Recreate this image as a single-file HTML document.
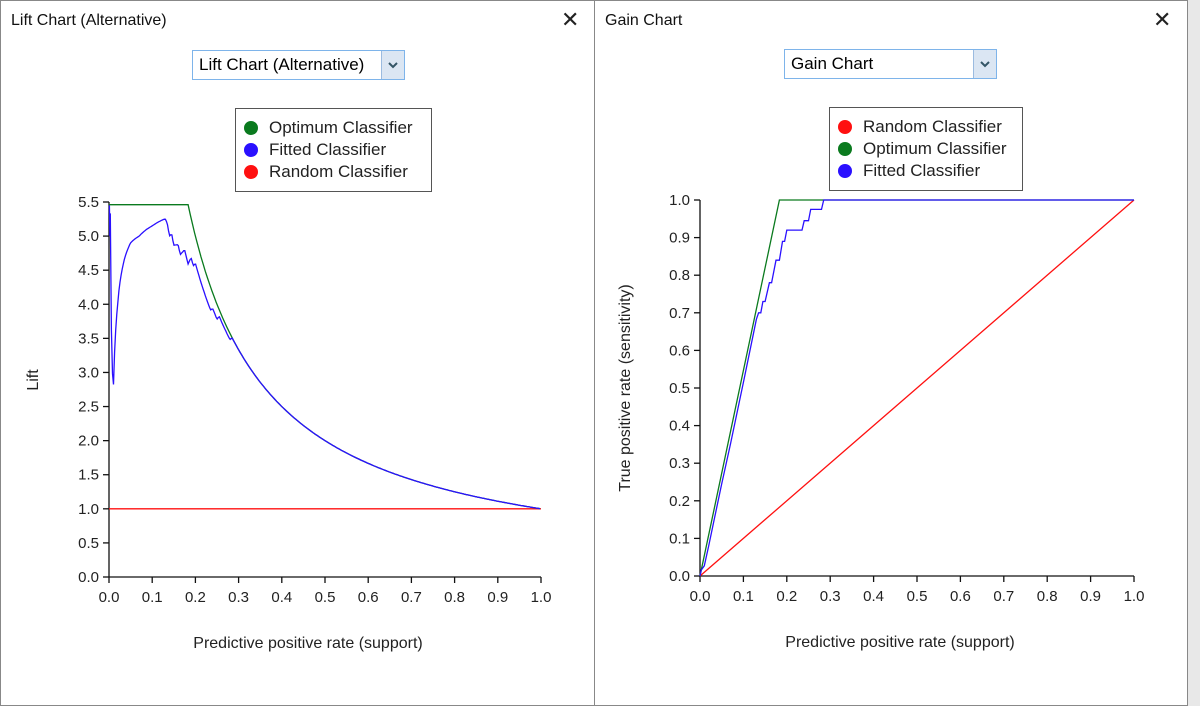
<!DOCTYPE html>
<html><head><meta charset="utf-8"><style>
body{margin:0;width:1200px;height:706px;background:#e8e8e8;position:relative;overflow:hidden;font-family:"Liberation Sans","DejaVu Sans",sans-serif;}
.win{position:absolute;top:0;background:#fff;border:1px solid #888;box-sizing:border-box;}
.title{position:absolute;left:10px;top:11px;font-size:16px;color:#111;}
.x{position:absolute;top:6px;font-size:22px;color:#222;}
.dd{position:absolute;height:30px;border:1px solid #7eb4ea;box-sizing:border-box;font-size:17px;background:#fff;}
.dd span{position:absolute;left:6px;top:4px;}
.dd i{position:absolute;right:0;top:0;width:22px;height:28px;background:#dbe6f3;border-left:1px solid #9bbbe0;}
.leg{position:absolute;border:1.5px solid #555;box-sizing:border-box;font-size:17px;color:#222;background:#fff;}
.leg div{position:relative;height:22px;padding-left:33px;line-height:22px;}
.leg b{position:absolute;left:8px;top:4px;width:14px;height:14px;border-radius:50%;}
svg{position:absolute;left:0;top:0;}
svg text{font-family:"Liberation Sans","DejaVu Sans",sans-serif;font-size:15px;fill:#222;}
</style></head><body>
<div class="win" style="left:0;width:595px;height:706px;">
<div class="title">Lift Chart (Alternative)</div><div class="x" style="left:560px">✕</div>
<div class="dd" style="left:191px;top:49px;width:213px"><span>Lift Chart (Alternative)</span><i><svg width="22" height="28"><path d="M7 12 L11 16 L15 12" stroke="#356" stroke-width="2" fill="none"/></svg></i></div>
<div class="leg" style="left:234px;top:107px;width:197px;height:84px;padding-top:8px"><div><b style="background:#0a7a1e"></b>Optimum Classifier</div><div><b style="background:#2a10ff"></b>Fitted Classifier</div><div><b style="background:#ff1010"></b>Random Classifier</div></div>
</div>
<div class="win" style="left:594px;width:594px;height:706px;">
<div class="title">Gain Chart</div><div class="x" style="left:558px">✕</div>
<div class="dd" style="left:189px;top:48px;width:213px"><span>Gain Chart</span><i><svg width="22" height="28"><path d="M7 12 L11 16 L15 12" stroke="#356" stroke-width="2" fill="none"/></svg></i></div>
<div class="leg" style="left:234px;top:106px;width:194px;height:84px;padding-top:8px"><div><b style="background:#ff1010"></b>Random Classifier</div><div><b style="background:#0a7a1e"></b>Optimum Classifier</div><div><b style="background:#2a10ff"></b>Fitted Classifier</div></div>
</div>
<svg id="s" width="1200" height="706"></svg>
<script>
var s=document.getElementById('s'),h='';
function L(x1,y1,x2,y2){h+='<line x1="'+x1+'" y1="'+y1+'" x2="'+x2+'" y2="'+y2+'" stroke="#111" stroke-width="1.3"/>';}
function T(x,y,t,a,st){h+='<text x="'+x+'" y="'+y+'" text-anchor="'+(a||'middle')+'"'+(st?' style="'+st+'"':'')+'>'+t+'</text>';}
function P(pts,c){h+='<polyline fill="none" stroke="'+c+'" stroke-width="1.3" points="'+pts.map(function(p){return p[0].toFixed(1)+','+p[1].toFixed(1)}).join(' ')+'"/>';}
var lx0=109,lx1=541,ly0=577,ly1=202;
function LX(v){return lx0+(lx1-lx0)*v}function LY(v){return ly0-(ly0-ly1)*v/5.5}
L(lx0,ly0,lx1,ly0);L(lx0,ly0,lx0,ly1);
for(var i=0;i<=10;i++){var x=LX(i/10);L(x,ly0,x,ly0+6);T(x,ly0+25,(i/10).toFixed(1));}
for(var i=0;i<=11;i++){var y=LY(i/2);L(lx0-6,y,lx0,y);T(lx0-10,y+5,(i/2).toFixed(1),'end');}
T(308,648,'Predictive positive rate (support)','middle','font-size:16px');
h+='<text x="38" y="380" text-anchor="middle" style="font-size:16px" transform="rotate(-90 38 380)">Lift</text>';
var rx0=700,rx1=1134,ry0=576,ry1=200;
function RX(v){return rx0+(rx1-rx0)*v}function RY(v){return ry0-(ry0-ry1)*v}
L(rx0,ry0,rx1,ry0);L(rx0,ry0,rx0,ry1);
for(var i=0;i<=10;i++){var x=RX(i/10);L(x,ry0,x,ry0+6);T(x,ry0+25,(i/10).toFixed(1));}
for(var i=0;i<=10;i++){var y=RY(i/10);L(rx0-6,y,rx0,y);T(rx0-10,y+5,(i/10).toFixed(1),'end');}
T(900,647,'Predictive positive rate (support)','middle','font-size:16px');
h+='<text x="630" y="388" text-anchor="middle" style="font-size:16px" transform="rotate(-90 630 388)">True positive rate (sensitivity)</text>';
var g=[[0,0],[0.003,0.016],[0.01,0.027],[0.02,0.08],[0.03,0.135],[0.05,0.245],[0.07,0.35],[0.1,0.515],[0.13,0.683],[0.135,0.70],[0.14,0.70],[0.145,0.73],[0.15,0.73],[0.16,0.78],[0.165,0.78],[0.175,0.84],[0.183,0.84],[0.19,0.89],[0.195,0.89],[0.2,0.92],[0.235,0.92],[0.24,0.945],[0.25,0.945],[0.255,0.975],[0.28,0.975],[0.285,1],[1,1]];
function G(x){for(var i=1;i<g.length;i++)if(x<=g[i][0]){var a=g[i-1],b=g[i];return a[1]+(b[1]-a[1])*(x-a[0])/(b[0]-a[0]);}return 1;}
var xo=0.183;
P([[RX(0),RY(0)],[RX(1),RY(1)]],'#ff1010');
P([[RX(0),RY(0)],[RX(xo),RY(1)],[RX(1),RY(1)]],'#0a7a1e');
P(g.map(function(p){return [RX(p[0]),RY(p[1])]}),'#2a10ff');
P([[LX(0),LY(1)],[LX(1),LY(1)]],'#ff1010');
var op=[[LX(0),LY(5.46)],[LX(xo),LY(5.46)]];for(var x=xo;x<=1.0001;x+=0.005)op.push([LX(x),LY(Math.min(5.46,1/x))]);
P(op,'#0a7a1e');
var fp=[[LX(0.001),LY(5.45)],[LX(0.002),LY(5.0)]];for(var x=0.003;x<=1.0001;x+=0.0025)fp.push([LX(x),LY(G(x)/x)]);
P(fp,'#2a10ff');
s.innerHTML=h;
</script>
</body></html>
